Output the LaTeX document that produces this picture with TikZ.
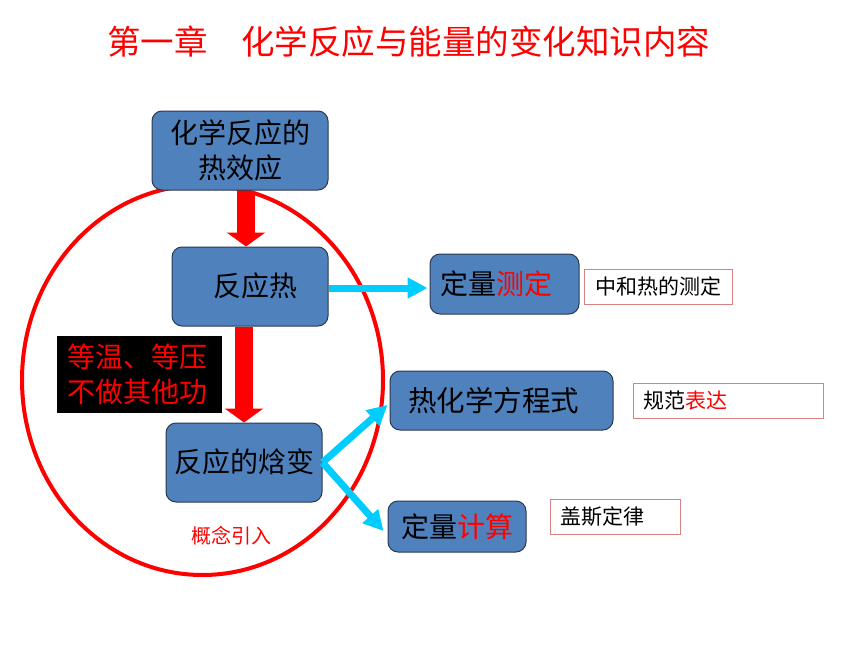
\documentclass[tikz,border=0pt]{standalone}
\usepackage{fontspec}
\setmainfont{Noto Sans CJK SC}
\usetikzlibrary{arrows.meta,calc}
\definecolor{boxblue}{HTML}{4F81BD}
\definecolor{boxedge}{HTML}{2B3A4F}
\definecolor{arrcyan}{HTML}{00CCFF}
\definecolor{pinkedge}{HTML}{D98080}
\definecolor{pred}{HTML}{FF0000}
\tikzset{
  bluebox/.style={draw=boxedge, line width=1pt, fill=boxblue, rounded corners=10pt,
    align=center, inner sep=0pt, font=\fontsize{28}{35}\selectfont, text=black},
  notebox/.style={draw=pinkedge, line width=1pt, fill=white, inner xsep=10pt, inner ysep=0pt,
    align=left, font=\fontsize{21}{24}\selectfont, text=black},
  redarrow/.style={draw=pred, line width=18pt, -{Triangle[width=38pt,length=14pt]}},
  cyanarrow/.style={draw=arrcyan, line width=7pt, -{Triangle[width=20pt,length=20pt]}},
}
\begin{document}
\begin{tikzpicture}[x=1pt,y=-1pt]
\useasboundingbox (0,0) rectangle (860,645);
% title
\node[text=pred, font=\fontsize{33.5}{36}\selectfont, anchor=west, inner sep=0pt] (title) at (107,42) {第一章\hspace{33.5pt}化学反应与能量的变化知识内容};
% ellipse
\draw[pred, line width=4pt] (202.5,380) ellipse [x radius=180.5, y radius=195];
% blue boxes
\node[bluebox, minimum width=176pt, minimum height=79pt] (b1) at (240,150.5) {化学反应的\\热效应};
\node[bluebox, minimum width=156pt, minimum height=79pt] (b2) at (250,286.5) {\raisebox{3pt}{\hspace{10pt}反应热}};
\node[bluebox, minimum width=149pt, minimum height=60pt] (b3) at (504.5,284) {定量\textcolor{pred}{测定}\hspace{16pt}};
\node[bluebox, minimum width=156pt, minimum height=79pt] (b4) at (244,462.5) {\raisebox{3pt}{反应的焓变}};
\node[bluebox, minimum width=223pt, minimum height=59pt, font=\fontsize{28.5}{35}\selectfont] (b5) at (501.5,400.5) {热化学方程式\hspace{16pt}};
\node[bluebox, minimum width=138pt, minimum height=51pt] (b6) at (457,526.5) {定量\textcolor{pred}{计算}};
% note boxes
\node[notebox, minimum width=148pt, minimum height=35pt, align=center] (n1) at (658,286.5) {中和热的测定};
\node[notebox, text width=170pt, minimum height=35pt] (n2) at (728,400.5) {规范\textcolor{pred}{表达}};
\node[notebox, text width=110pt, minimum height=35pt] (n3) at (615,516.5) {盖斯定律};
% black condition box
\node[fill=black, text=pred, minimum width=165pt, minimum height=77pt, text width=145pt,
  inner xsep=10pt, inner ysep=0pt, align=left, font=\fontsize{28}{35}\selectfont] (cond) at (139.5,374.5) {等温、等压\\不做其他功};
% label
\node[text=pred, font=\fontsize{20}{24}\selectfont, inner sep=0pt] (lab) at (231,536) {概念引入};
% arrows
\draw[redarrow] ([xshift=6pt]b1.south) -- ([xshift=-4pt]b2.north);
\draw[redarrow] ([xshift=-6pt]b2.south) -- (b4.north);
\draw[cyanarrow] ($(b2.east)+(0,1.5)$) -- ($(b3.west)+(-2,4)$);
\draw[cyanarrow] (b4.east) -- ($(b5.west)+(-2,4.5)$);
\draw[cyanarrow] (b4.east) -- ($(b6.west)+(-4,4.5)$);
\end{tikzpicture}
\end{document}
